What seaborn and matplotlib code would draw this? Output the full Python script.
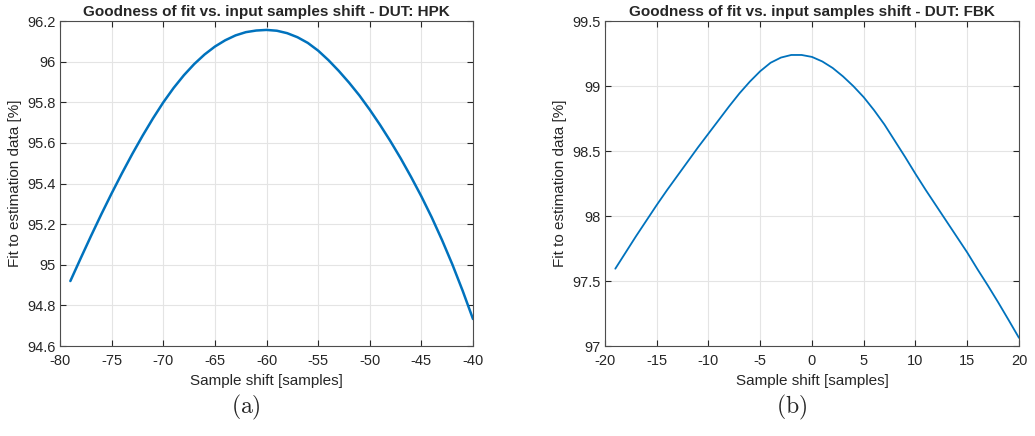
import matplotlib
matplotlib.use('Agg')
import matplotlib.pyplot as plt
import seaborn as sns
import pandas as pd

# --- Data ---
shift_hpk = list(range(-79, -39))
fit_hpk = [94.920, 95.032, 95.142, 95.249, 95.352, 95.451, 95.546, 95.636, 95.721, 95.800,
           95.871, 95.934, 95.989, 96.036, 96.075, 96.106, 96.130, 96.146, 96.154, 96.157,
           96.153, 96.141, 96.121, 96.093, 96.055, 96.008, 95.955, 95.897, 95.834, 95.764,
           95.689, 95.609, 95.524, 95.433, 95.337, 95.234, 95.122, 95.002, 94.872, 94.733]

shift_fbk = list(range(-19, 21))
fit_fbk = [97.595, 97.72, 97.845, 97.965, 98.085, 98.20, 98.31, 98.42, 98.53, 98.635,
           98.74, 98.845, 98.945, 99.035, 99.115, 99.18, 99.22, 99.24, 99.24, 99.225,
           99.19, 99.14, 99.075, 99.00, 98.915, 98.815, 98.705, 98.58, 98.455, 98.325,
           98.20, 98.08, 97.96, 97.84, 97.72, 97.59, 97.465, 97.335, 97.20, 97.063]

titles = ['Goodness of fit vs. input samples shift - DUT: HPK',
          'Goodness of fit vs. input samples shift - DUT: FBK']
captions = ['(a)', '(b)']

# --- Style ---
sns.set_theme(style='white')
plt.rcParams['font.family'] = ['Liberation Sans', 'DejaVu Sans']
plt.rcParams['mathtext.fontset'] = 'cm'
plt.rcParams['axes.unicode_minus'] = False
line_color = '#0072BD'
axis_gray = '#4d4d4d'

fig = plt.figure(figsize=(10.35, 4.36), dpi=100)
ax1 = fig.add_axes([0.058, 0.2064, 0.399, 0.745])
ax2 = fig.add_axes([0.5845, 0.2064, 0.400, 0.745])

df_hpk = pd.DataFrame({'shift': shift_hpk, 'fit': fit_hpk})
df_fbk = pd.DataFrame({'shift': shift_fbk, 'fit': fit_fbk})

sns.lineplot(data=df_hpk, x='shift', y='fit', ax=ax1, color=line_color, linewidth=1.8)
sns.lineplot(data=df_fbk, x='shift', y='fit', ax=ax2, color=line_color, linewidth=1.3)

ax1.set_xlim(-80, -40)
ax1.set_ylim(94.6, 96.2)
ax1.set_xticks(range(-80, -39, 5))
ax1.set_yticks([94.6, 94.8, 95.0, 95.2, 95.4, 95.6, 95.8, 96.0, 96.2])
ax1.set_yticklabels(['94.6', '94.8', '95', '95.2', '95.4', '95.6', '95.8', '96', '96.2'])

ax2.set_xlim(-20, 20)
ax2.set_ylim(97, 99.5)
ax2.set_xticks(range(-20, 21, 5))
ax2.set_yticks([97, 97.5, 98, 98.5, 99, 99.5])
ax2.set_yticklabels(['97', '97.5', '98', '98.5', '99', '99.5'])

for ax, title in zip([ax1, ax2], titles):
    ax.grid(True, color='#e4e4e4', linewidth=0.8)
    ax.set_axisbelow(True)
    ax.tick_params(direction='in', length=4, width=0.8, colors='#262626',
                   labelsize=10.5, top=True, right=True,
                   bottom=True, left=True)
    ax.tick_params(axis='x', pad=6)
    ax.tick_params(axis='y', pad=3)
    for sp in ax.spines.values():
        sp.set_color(axis_gray)
        sp.set_linewidth(0.8)
    ax.set_title(title, fontsize=11, fontweight='bold', pad=4)
    ax.set_xlabel('Sample shift [samples]', fontsize=11, color='#262626', labelpad=4)
    ax.set_ylabel('Fit to estimation data [%]', fontsize=11, color='#262626', labelpad=4)

fig.text(0.2377, 0.066, r'$\mathrm{(a)}$', ha='center', va='center', fontsize=17)
fig.text(0.7652, 0.066, r'$\mathrm{(b)}$', ha='center', va='center', fontsize=17)

fig.savefig('out.png', dpi=100)
